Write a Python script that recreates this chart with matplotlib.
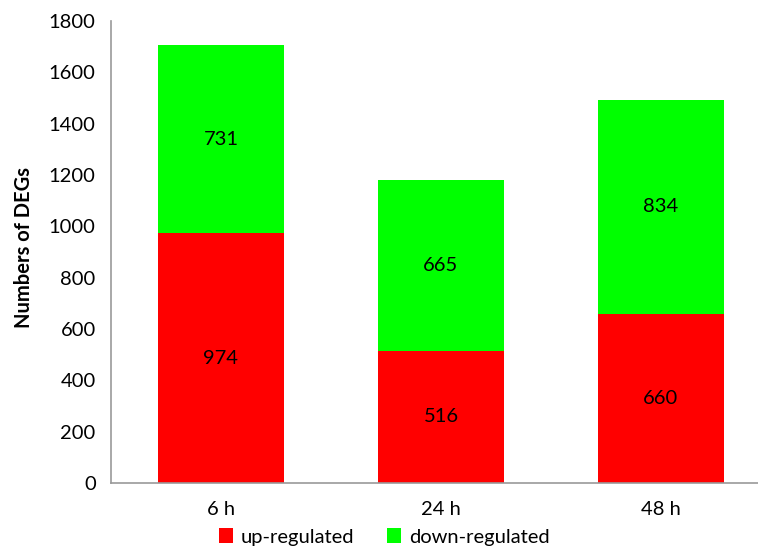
import matplotlib.pyplot as plt
import numpy as np

plt.rcParams['font.family'] = ['Lato', 'DejaVu Sans']

# DEG counts per time point
times = ['6 h', '24 h', '48 h']
up_regulated = [974, 516, 660]
down_regulated = [731, 665, 834]

fig = plt.figure(figsize=(7.58, 5.5), dpi=100)
ax = fig.add_axes([111 / 758, 1 - 483 / 550, 660 / 758, 462 / 550])

x = np.arange(len(times))
width = 0.57
up_bars = ax.bar(x, up_regulated, width, color='#ff0000', label='up-regulated')
down_bars = ax.bar(x, down_regulated, width, bottom=up_regulated,
                   color='#00ff00', label='down-regulated')

# value labels in the middle of each segment
for bars, vals, base in [(up_bars, up_regulated, [0, 0, 0]),
                         (down_bars, down_regulated, up_regulated)]:
    for b, v, b0 in zip(bars, vals, base):
        ax.text(b.get_x() + b.get_width() / 2, b0 + v / 2, str(v),
                ha='center', va='center', fontsize=14.5, color='black')

ax.set_xlim(-0.5, 2.5)
ax.set_ylim(0, 1800)
ax.set_yticks(range(0, 1801, 200))
ax.set_xticks(x)
ax.set_xticklabels(times)
ax.tick_params(axis='both', length=0, labelsize=14.5, colors='black')
ax.tick_params(axis='y', pad=11)
ax.tick_params(axis='x', pad=13)

for side in ['top', 'right']:
    ax.spines[side].set_visible(False)
for side in ['left', 'bottom']:
    ax.spines[side].set_color('#999999')
    ax.spines[side].set_linewidth(1.2)

fig.text(24 / 758, 1 - 247 / 550, 'Numbers of DEGs', rotation=90,
         ha='center', va='center', fontsize=14.5, fontweight='bold')

fig.legend(handles=[up_bars, down_bars], loc='center',
           bbox_to_anchor=(384 / 758, 1 - 537 / 550), ncol=2, frameon=False,
           fontsize=14.5, handlelength=0.7, handleheight=0.7,
           handletextpad=0.4, columnspacing=1.6)

fig.savefig('out.png', dpi=100)
